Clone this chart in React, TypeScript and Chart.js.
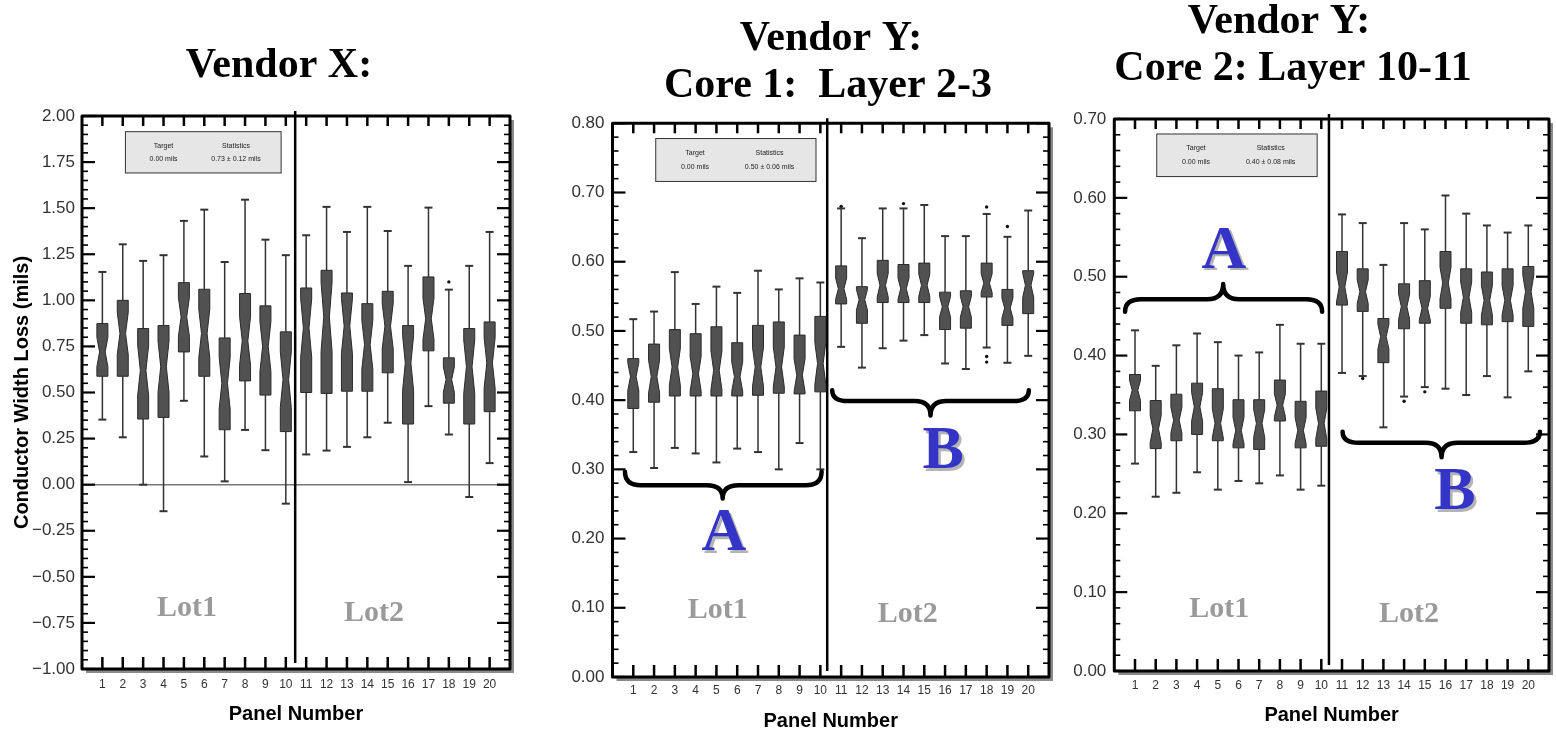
import { useEffect, useRef } from "react";
import { Chart, registerables } from "chart.js";

Chart.register(...registerables);

const SANS = '"Liberation Sans", Arial, Helvetica, sans-serif';
const SERIF = '"Liberation Serif", "Times New Roman", Times, serif';

// Panel numbers along the x axis
const PANEL_NUMBERS = [1, 2, 3, 4, 5, 6, 7, 8, 9, 10, 11, 12, 13, 14, 15, 16, 17, 18, 19, 20];

// ---- Vendor X: conductor width loss (mils) ----
const vxLow = [0.353, 0.257, 0.0, -0.144, 0.455, 0.153, 0.018, 0.297, 0.187, -0.103, 0.164, 0.185, 0.205, 0.257, 0.336, 0.014, 0.426, 0.272, -0.067, 0.117];
const vxQ1 = [0.588, 0.588, 0.356, 0.365, 0.72, 0.588, 0.298, 0.563, 0.486, 0.288, 0.5, 0.495, 0.507, 0.507, 0.607, 0.329, 0.726, 0.442, 0.329, 0.396];
const vxMed = [0.72, 0.82, 0.62, 0.64, 0.91, 0.82, 0.55, 0.78, 0.75, 0.57, 0.85, 0.91, 0.86, 0.76, 0.86, 0.66, 0.9, 0.57, 0.64, 0.66];
const vxQ3 = [0.874, 1.0, 0.847, 0.863, 1.096, 1.06, 0.796, 1.037, 0.97, 0.829, 1.067, 1.163, 1.04, 0.982, 1.049, 0.863, 1.127, 0.688, 0.847, 0.883];
const vxHigh = [1.154, 1.304, 1.214, 1.245, 1.431, 1.492, 1.208, 1.546, 1.329, 1.245, 1.353, 1.507, 1.371, 1.507, 1.376, 1.187, 1.503, 1.058, 1.187, 1.371];
const vxOutliers = [{ x: 18, y: 1.1 }];

// ---- Vendor Y, Core 1, Layer 2-3 ----
const c1Low = [0.325, 0.302, 0.331, 0.323, 0.31, 0.33, 0.325, 0.3, 0.338, 0.3, 0.477, 0.447, 0.475, 0.486, 0.494, 0.453, 0.445, 0.476, 0.454, 0.464];
const c1Q1 = [0.388, 0.397, 0.406, 0.406, 0.406, 0.406, 0.407, 0.41, 0.409, 0.412, 0.539, 0.511, 0.541, 0.541, 0.541, 0.502, 0.504, 0.549, 0.508, 0.525];
const c1Med = [0.434, 0.434, 0.448, 0.438, 0.443, 0.434, 0.448, 0.448, 0.436, 0.453, 0.561, 0.545, 0.566, 0.561, 0.566, 0.535, 0.535, 0.569, 0.533, 0.566];
const c1Q3 = [0.46, 0.481, 0.502, 0.496, 0.506, 0.483, 0.508, 0.513, 0.494, 0.521, 0.594, 0.564, 0.602, 0.596, 0.598, 0.556, 0.558, 0.598, 0.56, 0.587];
const c1High = [0.517, 0.528, 0.585, 0.539, 0.564, 0.555, 0.587, 0.56, 0.576, 0.57, 0.677, 0.634, 0.677, 0.677, 0.682, 0.637, 0.637, 0.669, 0.636, 0.674];
const c1Outliers = [
  { x: 11, y: 0.68 },
  { x: 14, y: 0.684 },
  { x: 18, y: 0.679 },
  { x: 19, y: 0.651 },
  { x: 18, y: 0.463 },
  { x: 18, y: 0.455 },
];

// ---- Vendor Y, Core 2, Layer 10-11 ----
const c2Low = [0.263, 0.221, 0.226, 0.252, 0.23, 0.241, 0.238, 0.248, 0.23, 0.235, 0.378, 0.374, 0.309, 0.348, 0.36, 0.358, 0.35, 0.374, 0.347, 0.38];
const c2Q1 = [0.33, 0.282, 0.292, 0.3, 0.292, 0.283, 0.281, 0.317, 0.283, 0.285, 0.464, 0.456, 0.391, 0.434, 0.441, 0.46, 0.441, 0.439, 0.443, 0.437];
const c2Med = [0.356, 0.307, 0.318, 0.335, 0.314, 0.305, 0.314, 0.337, 0.305, 0.314, 0.487, 0.481, 0.424, 0.462, 0.46, 0.492, 0.474, 0.47, 0.47, 0.481];
const c2Q3 = [0.376, 0.343, 0.351, 0.365, 0.358, 0.344, 0.344, 0.369, 0.342, 0.355, 0.532, 0.51, 0.447, 0.491, 0.495, 0.532, 0.51, 0.506, 0.51, 0.513];
const c2High = [0.432, 0.387, 0.413, 0.428, 0.417, 0.4, 0.404, 0.439, 0.415, 0.415, 0.579, 0.568, 0.515, 0.568, 0.56, 0.603, 0.58, 0.565, 0.556, 0.565];
const c2Outliers = [
  { x: 12, y: 0.371 },
  { x: 14, y: 0.342 },
  { x: 15, y: 0.354 },
];

type Pt = { x: number; y: number };
type TextItem = { text: string; x: number; y: number };
type Brace = { x1: number; x2: number; xm: number; yEnd: number; yBar: number; yTip: number };

type Spec = {
  key: string;
  canvasLeft: number;
  canvasWidth: number;
  padTop: number;
  padRight: number;
  yAxisWidth: number;
  xAxisHeight: number;
  xTickPad: number;
  yTickPad: number;
  xTitlePad: number;
  yTitle: string | null;
  yTitlePad: number;
  yMin: number;
  yMax: number;
  yStep: number;
  yMinor: number;
  low: number[];
  q1: number[];
  med: number[];
  q3: number[];
  high: number[];
  outliers: Pt[];
  divider: number;
  zeroLine: boolean;
  legend: { x1: number; x2: number; y1: number; y2: number; stats: string };
  lots: TextItem[];
  braces: Brace[];
  letters: TextItem[];
  titles: TextItem[];
};

const PANELS: Spec[] = [
  {
    key: "vx",
    canvasLeft: 0,
    canvasWidth: 530,
    padTop: 116,
    padRight: 20,
    yAxisWidth: 82,
    xAxisHeight: 62,
    xTickPad: 8,
    yTickPad: 7,
    xTitlePad: 5,
    yTitle: "Conductor Width Loss (mils)",
    yTitlePad: 10,
    yMin: -1,
    yMax: 2,
    yStep: 0.25,
    yMinor: 0.05,
    low: vxLow,
    q1: vxQ1,
    med: vxMed,
    q3: vxQ3,
    high: vxHigh,
    outliers: vxOutliers,
    divider: 10.46,
    zeroLine: true,
    legend: { x1: 2.13, x2: 9.77, y1: 1.915, y2: 1.691, stats: "0.73 \u00b1 0.12 mils" },
    lots: [
      { text: "Lot1", x: 5.15, y: -0.671 },
      { text: "Lot2", x: 14.33, y: -0.695 },
    ],
    braces: [],
    letters: [],
    titles: [{ text: "Vendor X:", x: 279, y: 77 }],
  },
  {
    key: "c1",
    canvasLeft: 535,
    canvasWidth: 525,
    padTop: 123.3,
    padRight: 11,
    yAxisWidth: 77.5,
    xAxisHeight: 54,
    xTickPad: 6,
    yTickPad: 8,
    xTitlePad: -2,
    yTitle: null,
    yTitlePad: 0,
    yMin: 0,
    yMax: 0.8,
    yStep: 0.1,
    yMinor: 0.02,
    low: c1Low,
    q1: c1Q1,
    med: c1Med,
    q3: c1Q3,
    high: c1High,
    outliers: c1Outliers,
    divider: 10.33,
    zeroLine: false,
    legend: { x1: 2.08, x2: 9.79, y1: 0.778, y2: 0.716, stats: "0.50 \u00b1 0.06 mils" },
    lots: [
      { text: "Lot1", x: 5.06, y: 0.0967 },
      { text: "Lot2", x: 14.2, y: 0.0905 },
    ],
    braces: [
      { x1: 0.6, x2: 10.06, xm: 5.3, yEnd: 0.2965, yBar: 0.277, yTip: 0.258 },
      { x1: 10.57, x2: 20.03, xm: 15.3, yEnd: 0.4144, yBar: 0.3986, yTip: 0.378 },
    ],
    letters: [
      { text: "A", x: 5.36, y: 0.206 },
      { text: "B", x: 15.91, y: 0.325 },
    ],
    titles: [
      { text: "Vendor Y:", x: 831, y: 50 },
      { text: "Core 1:  Layer 2-3", x: 828, y: 97 },
    ],
  },
  {
    key: "c2",
    canvasLeft: 1060,
    canvasWidth: 496,
    padTop: 119,
    padRight: 7,
    yAxisWidth: 54.3,
    xAxisHeight: 60,
    xTickPad: 7,
    yTickPad: 8,
    xTitlePad: 4,
    yTitle: null,
    yTitlePad: 0,
    yMin: 0,
    yMax: 0.7,
    yStep: 0.1,
    yMinor: 0.02,
    low: c2Low,
    q1: c2Q1,
    med: c2Med,
    q3: c2Q3,
    high: c2High,
    outliers: c2Outliers,
    divider: 10.37,
    zeroLine: false,
    legend: { x1: 2.05, x2: 9.8, y1: 0.681, y2: 0.627, stats: "0.40 \u00b1 0.08 mils" },
    lots: [
      { text: "Lot1", x: 5.07, y: 0.078 },
      { text: "Lot2", x: 14.24, y: 0.072 },
    ],
    braces: [
      { x1: 0.52, x2: 10.04, xm: 5.26, yEnd: 0.4556, yBar: 0.4713, yTip: 0.4907 },
      { x1: 11.03, x2: 20.56, xm: 15.81, yEnd: 0.3035, yBar: 0.2895, yTip: 0.271 },
    ],
    letters: [
      { text: "A", x: 5.3, y: 0.5317 },
      { text: "B", x: 16.45, y: 0.2253 },
    ],
    titles: [
      { text: "Vendor Y:", x: 1279, y: 33 },
      { text: "Core 2: Layer 10-11", x: 1293, y: 80 },
    ],
  },
];

function line(ctx: CanvasRenderingContext2D, x1: number, y1: number, x2: number, y2: number) {
  ctx.beginPath();
  ctx.moveTo(x1, y1);
  ctx.lineTo(x2, y2);
  ctx.stroke();
}

function drawBrace(ctx: CanvasRenderingContext2D, x1: number, x2: number, xm: number, yEnd: number, yBar: number, yTip: number) {
  const r = Math.min(16, (xm - x1) / 4, (x2 - xm) / 4);
  ctx.beginPath();
  ctx.moveTo(x1, yEnd);
  ctx.quadraticCurveTo(x1, yBar, x1 + r, yBar);
  ctx.lineTo(xm - r, yBar);
  ctx.quadraticCurveTo(xm, yBar, xm, yTip);
  ctx.quadraticCurveTo(xm, yBar, xm + r, yBar);
  ctx.lineTo(x2 - r, yBar);
  ctx.quadraticCurveTo(x2, yBar, x2, yEnd);
  ctx.stroke();
}

function decorPlugin(s: Spec) {
  return {
    id: "panelDecor",
    beforeDraw(chart: any) {
      const { ctx, chartArea: a } = chart;
      ctx.save();
      // drop shadow and white plotting field
      ctx.fillStyle = "#8a8a8a";
      ctx.fillRect(a.left + 4, a.top + 4, a.right - a.left, a.bottom - a.top);
      ctx.fillStyle = "#ffffff";
      ctx.fillRect(a.left, a.top, a.right - a.left, a.bottom - a.top);
      // panel headings
      ctx.fillStyle = "#000";
      ctx.font = `bold 42px ${SERIF}`;
      ctx.textAlign = "center";
      ctx.textBaseline = "alphabetic";
      for (const t of s.titles) ctx.fillText(t.text, t.x - s.canvasLeft, t.y);
      ctx.restore();
    },
    beforeDatasetsDraw(chart: any) {
      const { ctx, chartArea: a, scales } = chart;
      const xs = scales.x;
      const ys = scales.y;
      ctx.save();

      if (s.zeroLine) {
        ctx.strokeStyle = "#777";
        ctx.lineWidth = 1.5;
        const y0 = ys.getPixelForValue(0);
        line(ctx, a.left, y0, a.right, y0);
      }

      // statistics box
      const lx1 = xs.getPixelForValue(s.legend.x1);
      const lx2 = xs.getPixelForValue(s.legend.x2);
      const ly1 = ys.getPixelForValue(s.legend.y1);
      const ly2 = ys.getPixelForValue(s.legend.y2);
      ctx.fillStyle = "#e6e6e6";
      ctx.fillRect(lx1, ly1, lx2 - lx1, ly2 - ly1);
      ctx.strokeStyle = "#333";
      ctx.lineWidth = 1;
      ctx.strokeRect(lx1, ly1, lx2 - lx1, ly2 - ly1);
      ctx.fillStyle = "#222";
      ctx.font = `7px ${SANS}`;
      ctx.textAlign = "center";
      ctx.textBaseline = "middle";
      const lw = lx2 - lx1;
      const lh = ly2 - ly1;
      ctx.fillText("Target", lx1 + lw * 0.245, ly1 + lh * 0.34);
      ctx.fillText("0.00 mils", lx1 + lw * 0.245, ly1 + lh * 0.66);
      ctx.fillText("Statistics", lx1 + lw * 0.71, ly1 + lh * 0.34);
      ctx.fillText(s.legend.stats, lx1 + lw * 0.71, ly1 + lh * 0.66);

      // lot labels
      ctx.fillStyle = "#9a9a9a";
      ctx.font = `bold 30px ${SERIF}`;
      for (const t of s.lots) ctx.fillText(t.text, xs.getPixelForValue(t.x), ys.getPixelForValue(t.y));

      // lot divider
      ctx.strokeStyle = "#000";
      ctx.lineWidth = 2.5;
      const xd = xs.getPixelForValue(s.divider);
      line(ctx, xd, a.top - 5, xd, a.bottom - 6);

      // notched box plots
      const hw = 5.5;
      const nw = 2.8;
      const cap = 4;
      for (let i = 0; i < PANEL_NUMBERS.length; i++) {
        const cx = xs.getPixelForValue(PANEL_NUMBERS[i]);
        const yLow = ys.getPixelForValue(s.low[i]);
        const yQ1 = ys.getPixelForValue(s.q1[i]);
        const yMed = ys.getPixelForValue(s.med[i]);
        const yQ3 = ys.getPixelForValue(s.q3[i]);
        const yHigh = ys.getPixelForValue(s.high[i]);

        ctx.strokeStyle = "#333";
        ctx.lineWidth = 1.5;
        line(ctx, cx, yQ1, cx, yLow);
        line(ctx, cx, yQ3, cx, yHigh);
        ctx.lineWidth = 2;
        line(ctx, cx - cap, yLow, cx + cap, yLow);
        line(ctx, cx - cap, yHigh, cx + cap, yHigh);

        const notch = (yQ1 - yQ3) * 0.28;
        const nLo = Math.min(yMed + notch, yQ1);
        const nHi = Math.max(yMed - notch, yQ3);
        ctx.beginPath();
        ctx.moveTo(cx - hw, yQ1);
        ctx.lineTo(cx - hw, nLo);
        ctx.lineTo(cx - nw, yMed);
        ctx.lineTo(cx - hw, nHi);
        ctx.lineTo(cx - hw, yQ3);
        ctx.lineTo(cx + hw, yQ3);
        ctx.lineTo(cx + hw, nHi);
        ctx.lineTo(cx + nw, yMed);
        ctx.lineTo(cx + hw, nLo);
        ctx.lineTo(cx + hw, yQ1);
        ctx.closePath();
        ctx.fillStyle = "#515151";
        ctx.fill();
        ctx.strokeStyle = "#2a2a2a";
        ctx.lineWidth = 1;
        ctx.stroke();
      }
      ctx.restore();
    },
    afterDatasetsDraw(chart: any) {
      const { ctx, chartArea: a, scales } = chart;
      const xs = scales.x;
      const ys = scales.y;
      ctx.save();

      // group braces
      ctx.strokeStyle = "#000";
      ctx.lineWidth = 4.5;
      ctx.lineCap = "round";
      ctx.lineJoin = "round";
      for (const b of s.braces) {
        drawBrace(
          ctx,
          xs.getPixelForValue(b.x1),
          xs.getPixelForValue(b.x2),
          xs.getPixelForValue(b.xm),
          ys.getPixelForValue(b.yEnd),
          ys.getPixelForValue(b.yBar),
          ys.getPixelForValue(b.yTip)
        );
      }
      ctx.lineCap = "butt";

      // group letters
      ctx.font = `bold 62px ${SERIF}`;
      ctx.textAlign = "center";
      ctx.textBaseline = "middle";
      for (const t of s.letters) {
        const px = xs.getPixelForValue(t.x);
        const py = ys.getPixelForValue(t.y);
        ctx.fillStyle = "#b4b4b4";
        ctx.fillText(t.text, px + 2.5, py + 2.5);
        ctx.fillStyle = "#3434c6";
        ctx.fillText(t.text, px, py);
      }

      // frame
      ctx.strokeStyle = "#000";
      ctx.lineWidth = 3;
      ctx.strokeRect(a.left, a.top, a.right - a.left, a.bottom - a.top);

      // inward tick marks
      ctx.lineWidth = 2.5;
      for (const n of PANEL_NUMBERS) {
        const px = xs.getPixelForValue(n);
        line(ctx, px, a.top, px, a.top + 10);
        line(ctx, px, a.bottom, px, a.bottom - 12);
      }
      const steps = Math.round((s.yMax - s.yMin) / s.yMinor);
      const per = Math.round(s.yStep / s.yMinor);
      for (let i = 0; i <= steps; i++) {
        const py = ys.getPixelForValue(s.yMin + i * s.yMinor);
        const major = i % per === 0;
        const len = major ? 13 : 6;
        ctx.lineWidth = major ? 2.2 : 1.6;
        line(ctx, a.left, py, a.left + len, py);
        line(ctx, a.right, py, a.right - len, py);
      }
      ctx.restore();
    },
  };
}

function fmtTick(v: number) {
  const n = Math.abs(v) < 1e-9 ? 0 : v;
  return n.toFixed(2).replace("-", "\u2212");
}

function Panel({ spec }: { spec: Spec }) {
  const ref = useRef<HTMLCanvasElement | null>(null);

  useEffect(() => {
    if (!ref.current) return;
    const s = spec;
    const chart = new Chart(ref.current, {
      type: "scatter",
      data: {
        datasets: [
          {
            data: s.outliers,
            pointRadius: 1.7,
            pointHoverRadius: 1.7,
            backgroundColor: "#111",
            borderColor: "#111",
            borderWidth: 0,
          },
        ],
      },
      options: {
        animation: false,
        responsive: false,
        maintainAspectRatio: false,
        events: [],
        layout: { padding: { top: s.padTop, right: s.padRight, bottom: 0, left: 0 } },
        plugins: { legend: { display: false }, tooltip: { enabled: false }, title: { display: false } },
        scales: {
          x: {
            type: "linear",
            position: "bottom",
            min: 0,
            max: 21,
            afterFit: (scale: any) => {
              scale.height = s.xAxisHeight;
            },
            grid: { display: false, drawTicks: false },
            border: { display: false },
            ticks: {
              stepSize: 1,
              autoSkip: false,
              maxRotation: 0,
              minRotation: 0,
              maxTicksLimit: 100,
              padding: s.xTickPad,
              color: "#333",
              font: { size: 12, family: SANS },
              callback: (v: any) => (PANEL_NUMBERS.includes(Number(v)) ? String(v) : ""),
            },
            title: {
              display: true,
              text: "Panel Number",
              color: "#000",
              font: { size: 20, weight: "bold", family: SANS },
              padding: { top: 0, bottom: s.xTitlePad },
            },
          },
          y: {
            type: "linear",
            position: "left",
            min: s.yMin,
            max: s.yMax,
            afterFit: (scale: any) => {
              scale.width = s.yAxisWidth;
            },
            grid: { display: false, drawTicks: false },
            border: { display: false },
            ticks: {
              stepSize: s.yStep,
              maxTicksLimit: 100,
              padding: s.yTickPad,
              color: "#333",
              font: { size: 17, family: SANS },
              callback: (v: any) => fmtTick(Number(v)),
            },
            title: {
              display: !!s.yTitle,
              text: s.yTitle || "",
              color: "#000",
              font: { size: 20, weight: "bold", family: SANS },
              padding: { top: s.yTitlePad, bottom: 0 },
            },
          },
        },
      } as any,
      plugins: [decorPlugin(s)],
    });
    return () => chart.destroy();
  }, [spec]);

  return (
    <canvas
      ref={ref}
      width={spec.canvasWidth}
      height={731}
      style={{ position: "absolute", left: spec.canvasLeft, top: 0 }}
    />
  );
}

export default function App() {
  return (
    <div
      style={{
        position: "absolute",
        left: 0,
        top: 0,
        width: 1556,
        height: 731,
        background: "#fff",
        overflow: "hidden",
      }}
    >
      {PANELS.map((p) => (
        <Panel key={p.key} spec={p} />
      ))}
    </div>
  );
}
